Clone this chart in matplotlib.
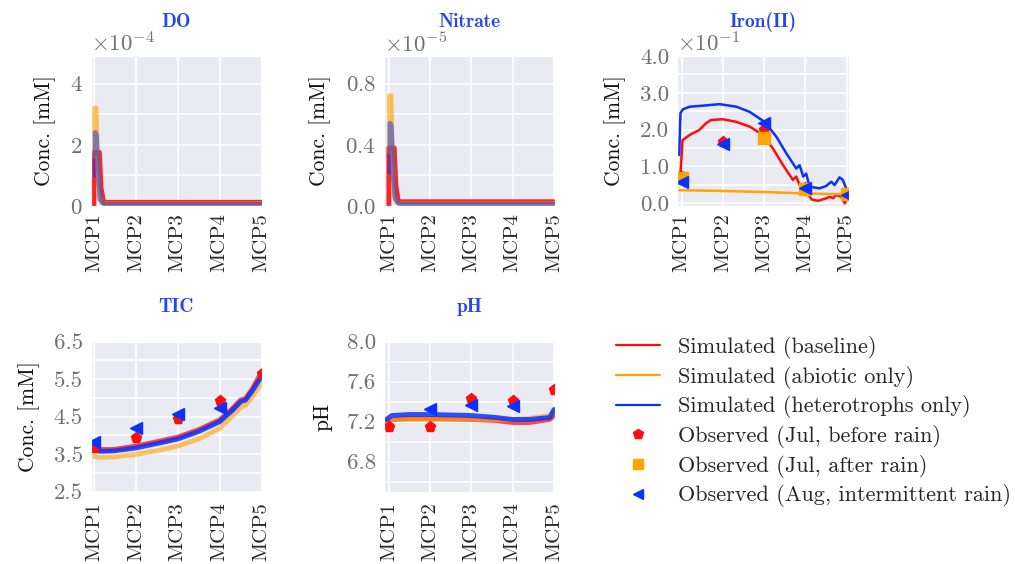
import matplotlib
matplotlib.use('Agg')
import matplotlib.pyplot as plt
import matplotlib.ticker as ticker
from matplotlib.lines import Line2D
import numpy as np
import seaborn as sns

sns.set_style('darkgrid')
plt.rcParams['font.family'] = 'cmr10'
plt.rcParams['mathtext.fontset'] = 'cm'
plt.rcParams['axes.formatter.use_mathtext'] = True
plt.rcParams['axes.unicode_minus'] = False
plt.rcParams['grid.linewidth'] = 1.2

wells = ['MCP1', 'MCP2', 'MCP3', 'MCP4', 'MCP5']
well_pos = [0, 1, 2, 3, 4]
nan = np.nan

# DO (x1e-4 mM)
do_red_x = [0.0, 0.0, 0.02, 0.13, 0.17, 0.23, 1.0, 2.0, 3.0, 4.0]
do_red_y = [0.0, 1.75, 1.75, 1.75, 0.6, 0.12, 0.12, 0.12, 0.12, 0.12]
do_orange_x = [0.02, 0.02, 0.05, 0.09, 0.13, 0.2, 0.3, 4.0]
do_orange_y = [1.6, 3.2, 3.2, 1.2, 0.3, 0.1, 0.07, 0.07]
do_blue_x = [0.03, 0.03, 0.06, 0.1, 0.15, 0.25, 4.0]
do_blue_y = [1.0, 2.4, 2.3, 1.0, 0.2, 0.05, 0.05]

# Nitrate (x1e-5 mM)
no3_red_x = [0.0, 0.0, 0.02, 0.13, 0.17, 0.23, 1.0, 2.0, 3.0, 4.0]
no3_red_y = [0.0, 0.38, 0.38, 0.38, 0.14, 0.028, 0.028, 0.028, 0.028, 0.028]
no3_orange_x = [0.02, 0.02, 0.05, 0.09, 0.13, 0.2, 0.3, 4.0]
no3_orange_y = [0.35, 0.72, 0.72, 0.28, 0.07, 0.025, 0.016, 0.016]
no3_blue_x = [0.03, 0.03, 0.06, 0.1, 0.15, 0.25, 4.0]
no3_blue_y = [0.22, 0.54, 0.52, 0.22, 0.05, 0.012, 0.012]

# Iron(II) (x1e-1 mM)
fe_red_x = [-0.04, 0.02, 0.19, 0.43, 0.59, 0.71, 1.0, 1.32, 1.65, 1.97, 2.21, 2.46,
            2.7, 2.78, 2.84, 2.9, 3.03, 3.15, 3.31, 3.51, 3.59, 3.67, 3.75, 3.87, 3.96, 4.0]
fe_red_y = [0.63, 1.71, 1.85, 1.99, 2.17, 2.26, 2.28, 2.21, 2.08, 1.85, 1.49, 1.03,
            0.63, 0.72, 0.55, 0.40, 0.31, 0.10, 0.06, 0.13, 0.17, 0.13, 0.22, 0.17, -0.01, 0.13]
fe_orange_x = [-0.06, 1.0, 2.0, 3.0, 3.5, 4.0]
fe_orange_y = [0.35, 0.33, 0.30, 0.26, 0.25, 0.24]
fe_blue_x = [-0.06, -0.03, 0.03, 0.19, 0.52, 0.92, 1.33, 1.65, 2.01, 2.3, 2.54, 2.78,
             2.86, 2.95, 3.02, 3.08, 3.14, 3.34, 3.5, 3.63, 3.71, 3.83, 3.91, 3.99]
fe_blue_y = [1.31, 2.45, 2.55, 2.62, 2.65, 2.69, 2.62, 2.48, 2.21, 1.80, 1.35, 0.94,
             1.03, 0.72, 0.80, 0.55, 0.44, 0.40, 0.46, 0.58, 0.49, 0.70, 0.63, 0.40]
fe_obs_jul = [0.70, 1.67, 2.00, 0.40, 0.20]
fe_obs_jul_after = [0.68, nan, 1.76, 0.38, 0.24]
fe_obs_aug = [0.58, 1.62, 2.17, 0.42, 0.23]

# TIC (mM)
tic_x = [-0.05, 0.14, 0.46, 1.0, 1.55, 2.0, 2.5, 3.0, 3.31, 3.5, 3.62, 3.78, 4.0]
tic_red = [3.67, 3.62, 3.62, 3.71, 3.84, 3.95, 4.15, 4.41, 4.72, 4.94, 4.98, 5.24, 5.68]
tic_blue = [3.62, 3.57, 3.58, 3.66, 3.79, 3.90, 4.10, 4.36, 4.67, 4.89, 4.94, 5.18, 5.57]
tic_orange = [3.45, 3.41, 3.42, 3.49, 3.60, 3.71, 3.90, 4.18, 4.52, 4.74, 4.80, 5.02, 5.40]
tic_obs_jul = [3.67, 3.93, 4.44, 4.92, 5.64]
tic_obs_aug = [3.82, 4.19, 4.56, 4.74, nan]

# pH
ph_x = [-0.06, 0.07, 0.5, 1.0, 2.0, 2.6, 3.0, 3.4, 3.9, 4.0]
ph_red = [7.19, 7.22, 7.23, 7.23, 7.22, 7.21, 7.19, 7.19, 7.22, 7.26]
ph_orange = [7.20, 7.22, 7.22, 7.22, 7.22, 7.22, 7.22, 7.23, 7.26, 7.30]
ph_blue = [7.22, 7.26, 7.27, 7.27, 7.26, 7.24, 7.22, 7.22, 7.24, 7.32]
ph_obs_jul = [7.15, 7.15, 7.43, 7.41, 7.52]
ph_obs_aug = [nan, 7.33, 7.37, 7.36, nan]

RED = '#ff0d0d'
ORANGE = '#ffa500'
BLUE = '#0a32ff'
TITLE_C = '#2545f5'
TICK_GREY = '#707070'
YTICK_FS = 16.5
XTICK_FS = 15

W, H = 1015, 564
fig = plt.figure(figsize=(W / 100, H / 100), dpi=100)


def make_ax(left, top, width=170.5, height=150):
    return fig.add_axes([left / W, 1 - (top + height) / H, width / W, height / H])


class OneDecimal(ticker.ScalarFormatter):
    def _set_format(self):
        self.format = '%1.1f'


def style(ax, title, ylabel, xlim, ylim, major, minor, power=None, fmt=None, xpad=5):
    ax.set_xlim(*xlim)
    ax.set_ylim(*ylim)
    ax.set_xticks(well_pos)
    ax.set_xticklabels(wells, rotation=90)
    ax.set_yticks(major)
    ax.set_yticks(minor, minor=True)
    ax.grid(which='both', color='white', linewidth=1.2)
    ax.tick_params(axis='y', which='both', length=0, pad=6, labelsize=YTICK_FS, labelcolor=TICK_GREY)
    ax.tick_params(axis='x', length=0, pad=xpad, labelsize=XTICK_FS, labelcolor='#262626')
    ax.set_title(title, fontfamily='cmb10', fontsize=14, color=TITLE_C, y=1.0, pad=21)
    ax.set_ylabel(ylabel, fontsize=15.5, labelpad=10, color='#111111')
    if power is not None:
        f = fmt if fmt is not None else ticker.ScalarFormatter(useMathText=True)
        f.set_powerlimits((power, power))
        ax.yaxis.set_major_formatter(f)
        ax.yaxis.get_offset_text().set_fontsize(YTICK_FS)
        ax.yaxis.get_offset_text().set_color(TICK_GREY)


# DO
ax1 = make_ax(91, 56)
s = 1e-4
ax1.plot(do_red_x, np.array(do_red_y) * s, color=RED, lw=3.5, alpha=0.9)
ax1.plot(do_orange_x, np.array(do_orange_y) * s, color=ORANGE, lw=3.5, alpha=0.65)
ax1.plot(do_blue_x, np.array(do_blue_y) * s, color=BLUE, lw=3.5, alpha=0.5)
style(ax1, 'DO', 'Conc. [mM]', (-0.07, 4.0), (0, 4.9e-4), [0, 2e-4, 4e-4], [1e-4, 3e-4], power=-4)

# Nitrate
ax2 = make_ax(384.3, 56)
s = 1e-5
ax2.plot(no3_red_x, np.array(no3_red_y) * s, color=RED, lw=3.5, alpha=0.9)
ax2.plot(no3_orange_x, np.array(no3_orange_y) * s, color=ORANGE, lw=3.5, alpha=0.65)
ax2.plot(no3_blue_x, np.array(no3_blue_y) * s, color=BLUE, lw=3.5, alpha=0.5)
style(ax2, 'Nitrate', 'Conc. [mM]', (-0.11, 4.02), (0, 0.98e-5), [0, 0.4e-5, 0.8e-5], [0.2e-5, 0.6e-5],
      power=-5)

# Iron(II)
ax3 = make_ax(677.3, 56, width=171.7)
s = 1e-1
ax3.plot(fe_red_x, np.array(fe_red_y) * s, color=RED, lw=1.8)
ax3.plot(fe_orange_x, np.array(fe_orange_y) * s, color=ORANGE, lw=1.8)
ax3.plot(fe_blue_x, np.array(fe_blue_y) * s, color=BLUE, lw=1.8)
ax3.plot(well_pos, np.array(fe_obs_jul) * s, 'p', color=RED, ms=8, ls='none')
ax3.plot(well_pos, np.array(fe_obs_jul_after) * s, 's', color=ORANGE, ms=8, ls='none')
ax3.plot(well_pos, np.array(fe_obs_aug) * s, '<', color=BLUE, ms=9, ls='none')
style(ax3, 'Iron(II)', 'Conc. [mM]', (-0.107, 4.06), (-0.008, 0.4),
      [0, 0.1, 0.2, 0.3, 0.4], [0.05, 0.15, 0.25, 0.35], power=-1, fmt=OneDecimal(useMathText=True))

# TIC
ax4 = make_ax(91, 341.5)
ax4.plot(tic_x, tic_red, color=RED, lw=3.5, alpha=0.75)
ax4.plot(tic_x, tic_orange, color=ORANGE, lw=3.5, alpha=0.6)
ax4.plot(tic_x, tic_blue, color=BLUE, lw=3.5, alpha=0.85)
ax4.plot(well_pos, tic_obs_jul, 'p', color=RED, ms=8, ls='none')
ax4.plot(well_pos, tic_obs_aug, '<', color=BLUE, ms=9, ls='none')
style(ax4, 'TIC', 'Conc. [mM]', (-0.07, 4.0), (2.5, 6.5),
      [2.5, 3.5, 4.5, 5.5, 6.5], [3.0, 4.0, 5.0, 6.0], xpad=8)
ax4.yaxis.set_major_formatter(ticker.FormatStrFormatter('%.1f'))

# pH
ax5 = make_ax(384.3, 341.5)
ax5.plot(ph_x, ph_red, color=RED, lw=3.5, alpha=0.75)
ax5.plot(ph_x, ph_orange, color=ORANGE, lw=3.5, alpha=0.6)
ax5.plot(ph_x, ph_blue, color=BLUE, lw=3.5, alpha=0.85)
ax5.plot(well_pos, ph_obs_jul, 'p', color=RED, ms=8, ls='none')
ax5.plot(well_pos, ph_obs_aug, '<', color=BLUE, ms=9, ls='none')
style(ax5, 'pH', 'pH', (-0.11, 4.02), (6.5, 8.0),
      [6.8, 7.2, 7.6, 8.0], [6.6, 7.0, 7.4, 7.8], xpad=8)
ax5.yaxis.set_major_formatter(ticker.FormatStrFormatter('%.1f'))

handles = [
    Line2D([], [], color=RED, lw=1.6),
    Line2D([], [], color=ORANGE, lw=1.6),
    Line2D([], [], color=BLUE, lw=1.6),
    Line2D([], [], color=RED, marker='p', ls='none', ms=7),
    Line2D([], [], color=ORANGE, marker='s', ls='none', ms=6.5),
    Line2D([], [], color=BLUE, marker='<', ls='none', ms=7),
]
labels = ['Simulated (baseline)', 'Simulated (abiotic only)', 'Simulated (heterotrophs only)',
          'Observed (Jul, before rain)', 'Observed (Jul, after rain)',
          'Observed (Aug, intermittent rain)']
fig.legend(handles, labels, loc='upper left', bbox_to_anchor=(0.598, 0.42), frameon=False,
           borderaxespad=0, fontsize=16, handlelength=2.0, handletextpad=0.8, labelspacing=0.3)

fig.savefig('out.png', dpi=100)
